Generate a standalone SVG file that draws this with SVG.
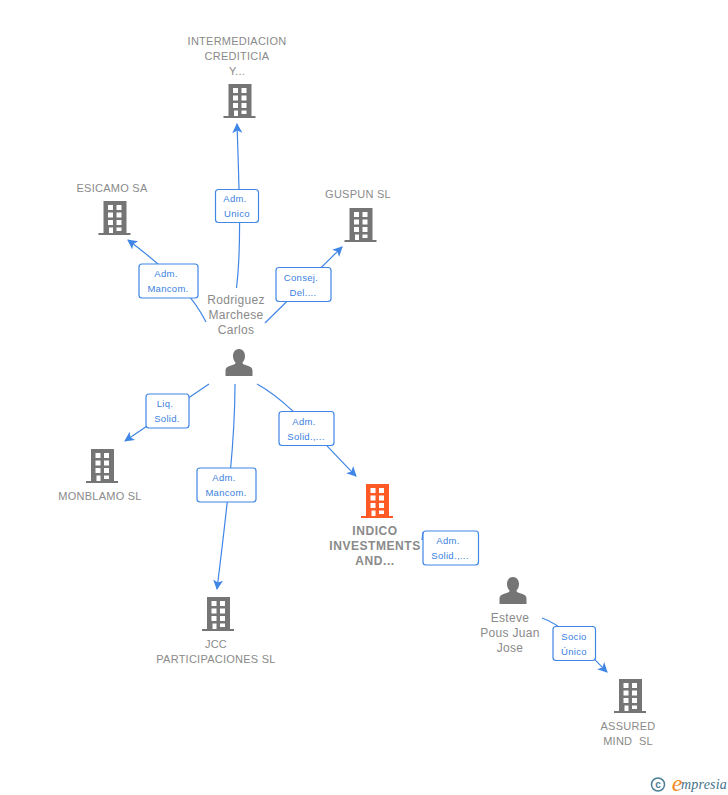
<svg xmlns="http://www.w3.org/2000/svg" width="728" height="795" viewBox="0 0 728 795">
<style>
text{font-family:"Liberation Sans",Arial,sans-serif;text-anchor:middle;white-space:pre}
.n{font-size:11px;fill:#8a8a8a;letter-spacing:.25px}
.p{font-size:12px;fill:#8a8a8a;letter-spacing:.3px}
.b{font-size:12px;fill:#8a8a8a;font-weight:700;letter-spacing:.55px}
.e{font-size:9.5px;fill:#3a7fe0;letter-spacing:.3px}
.c{fill:none;stroke:#3f86e6;stroke-width:1.2}
.r{fill:#fff;stroke:#3f86e6;stroke-width:1.2}
.bld{fill:#757575}.o{fill:#ff5a26}.w{fill:#fff}
</style>
<defs>
<marker id="a" markerWidth="12" markerHeight="12" refX="9" refY="5" orient="auto" markerUnits="userSpaceOnUse"><path d="M0 0L10 5L0 10L2.500 5Z" fill="#3f86e6"/></marker>
<g id="building">
<path d="M-11-18H12V14H16V16H-16V14H-11Z"/>
<g class="w"><rect x="-6.500" y="-14" width="5" height="5"/><rect x="2" y="-14" width="5" height="5"/><rect x="-6.500" y="-6.500" width="5" height="5"/><rect x="2" y="-6.500" width="5" height="5"/><rect x="-6.500" y="1" width="5" height="5"/><rect x="2" y="1" width="5" height="5"/><rect x="-5.500" y="8.500" width="4" height="5.500"/><rect x="2" y="8.500" width="5" height="3.500"/></g>
</g>
<path id="person" d="M0-14C4.500-14 6-10 6-7C6-4 5-2 3.500-.5C3.500 1 4.500 1.500 8 2.500C12 3.800 13.500 5 13.500 8V13H-13.500V8C-13.500 5-12 3.800-8 2.500C-4.500 1.500-3.500 1-3.500-.5C-5-2-6-4-6-7C-6-10-4.500-14 0-14Z" fill="#757575"/>
</defs>
<g id="connectors">
<path class="c" d="M236.500 288C241 250 240 210 237 124" marker-end="url(#a)"/>
<path class="c" d="M206 322C195 300 175 275 128 240" marker-end="url(#a)"/>
<path class="c" d="M265 323L342 247" marker-end="url(#a)"/>
<path class="c" d="M209 384L125 441" marker-end="url(#a)"/>
<path class="c" d="M235 384C235 440 228 500 217 589" marker-end="url(#a)"/>
<path class="c" d="M257 384C290 402 320 440 356 476" marker-end="url(#a)"/>
<path class="c" d="M422 540L423 532"/>
<path class="c" d="M542 618C565 626 585 650 607 672" marker-end="url(#a)"/>
</g>
<g id="edge-labels">
<rect class="r" x="215.500" y="189.500" width="43" height="33" rx="3"/><text class="e" x="235" y="202">Adm.</text><text class="e" x="237" y="217">Unico</text>
<rect class="r" x="139" y="264" width="59" height="34" rx="3"/><text class="e" x="166" y="277">Adm.</text><text class="e" x="168" y="292">Mancom.</text>
<rect class="r" x="276" y="267.500" width="55" height="34" rx="3"/><text class="e" x="301" y="281">Consej.</text><text class="e" x="303" y="296">Del....</text>
<rect class="r" x="146" y="394" width="43" height="34" rx="3"/><text class="e" x="165" y="407">Liq.</text><text class="e" x="167" y="422">Solid.</text>
<rect class="r" x="197" y="468" width="59" height="34" rx="3"/><text class="e" x="224" y="481">Adm.</text><text class="e" x="226" y="496">Mancom.</text>
<rect class="r" x="279" y="411.500" width="55" height="34" rx="3"/><text class="e" x="304" y="425">Adm.</text><text class="e" x="306" y="440">Solid.,...</text>
<rect class="r" x="423" y="531" width="55.500" height="34" rx="3"/><text class="e" x="448" y="544">Adm.</text><text class="e" x="450" y="559">Solid.,...</text>
<rect class="r" x="553" y="626.500" width="42.500" height="34" rx="3"/><text class="e" x="574" y="640">Socio</text><text class="e" x="574" y="655">Único</text>
</g>
<g id="node-intermediacion"><text class="n" x="237" y="45">INTERMEDIACION</text><text class="n" x="237" y="60">CREDITICIA</text><text class="n" x="237" y="75">Y...</text><use href="#building" class="bld" x="239.500" y="102"/></g>
<g id="node-esicamo"><text class="n" x="112" y="192">ESICAMO SA</text><use href="#building" class="bld" x="114.500" y="219"/></g>
<g id="node-guspun"><text class="n" x="358" y="198">GUSPUN SL</text><use href="#building" class="bld" x="360.500" y="226"/></g>
<g id="node-rodriguez"><text class="p" x="236" y="304">Rodriguez</text><text class="p" x="236" y="319">Marchese</text><text class="p" x="236" y="334">Carlos</text><use href="#person" x="239" y="363"/></g>
<g id="node-monblamo"><use href="#building" class="bld" x="102" y="467"/><text class="n" x="100" y="500">MONBLAMO SL</text></g>
<g id="node-jcc"><use href="#building" class="bld" x="218" y="615"/><text class="n" x="216" y="648">JCC</text><text class="n" x="216" y="663">PARTICIPACIONES SL</text></g>
<g id="node-indico"><use href="#building" class="o" x="377" y="502"/><text class="b" x="375" y="535">INDICO</text><text class="b" x="375" y="550">INVESTMENTS</text><text class="b" x="375" y="565">AND...</text></g>
<g id="node-esteve"><use href="#person" x="513" y="591"/><text class="p" x="510" y="622">Esteve</text><text class="p" x="510" y="637">Pous Juan</text><text class="p" x="510" y="652">Jose</text></g>
<g id="node-assured"><use href="#building" class="bld" x="630" y="697"/><text class="n" x="628" y="730">ASSURED</text><text class="n" x="628" y="745">MIND  SL</text></g>
<g id="watermark"><circle cx="658" cy="784.500" r="6.500" fill="none" stroke="#4a7f96" stroke-width="1.500"/><text x="658" y="788" style="font-size:10px;fill:#4a7f96;font-weight:700">c</text><text x="677" y="791" style="font-family:'Liberation Serif',serif;font-size:24px;font-style:italic;fill:#f08a1e">e</text><text x="704" y="789" style="font-family:'Liberation Serif',serif;font-size:14px;font-style:italic;fill:#3f7288;letter-spacing:.2px">mpresia</text></g>
</svg>
